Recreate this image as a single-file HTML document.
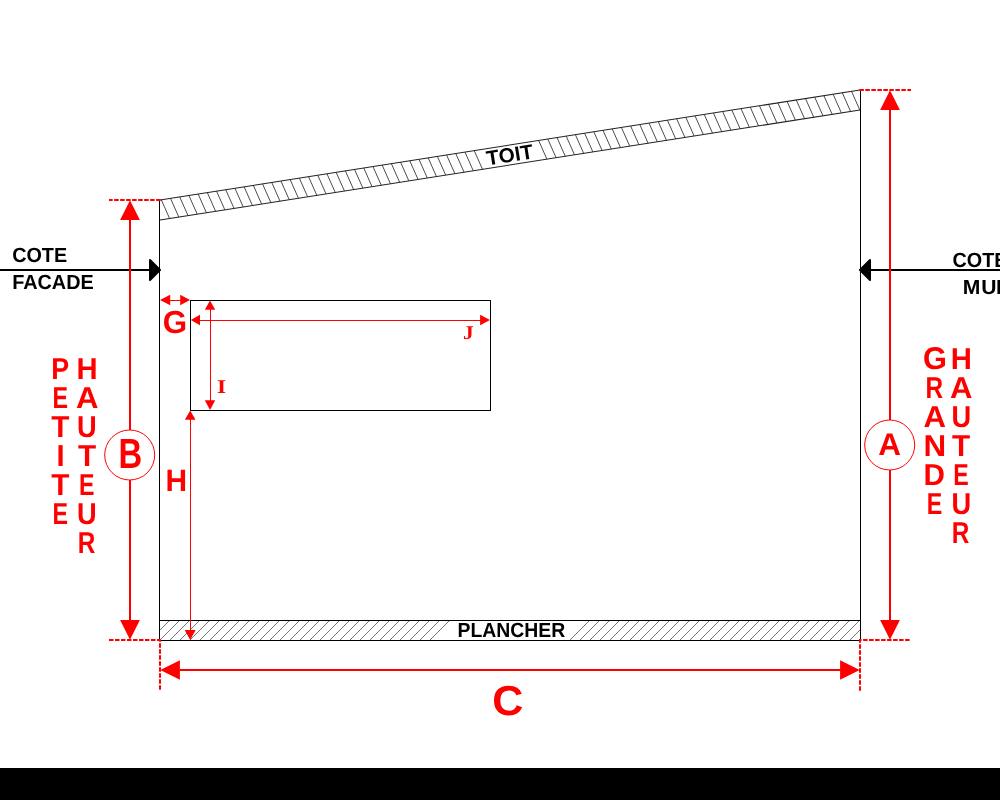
<!DOCTYPE html>
<html lang="fr">
<head>
<meta charset="utf-8">
<title>Schema</title>
<style>
html,body{margin:0;padding:0;background:#000;width:1000px;height:800px;overflow:hidden}
svg{display:block;position:absolute;left:0;top:0;will-change:transform}
text{font-family:"Liberation Sans",sans-serif;font-weight:bold;text-anchor:middle;text-rendering:geometricPrecision}
.r{fill:#f00}
.k{fill:#000}
.s{font-family:"Liberation Serif",serif;font-weight:bold;fill:#f00}
</style>
</head>
<body>
<svg width="1000" height="768" viewBox="0 0 1000 768">
<rect x="0" y="0" width="1000" height="768" fill="#fff"/>

<!-- roof -->
<path d="M161.3 199.8L169.6 218.49M170.5 198.35L178.8 217.05M179.71 196.9L188.01 215.6M188.91 195.46L197.21 214.15M198.11 194.01L206.41 212.71M207.31 192.57L215.61 211.26M216.52 191.12L224.82 209.81M225.72 189.67L234.02 208.37M234.92 188.23L243.22 206.92M244.12 186.78L252.42 205.48M253.33 185.33L261.63 204.03M262.53 183.89L270.83 202.58M271.73 182.44L280.03 201.14M280.93 181L289.23 199.69M290.14 179.55L298.44 198.25M299.34 178.1L307.64 196.8M308.54 176.66L316.84 195.35M317.75 175.21L326.05 193.91M326.95 173.77L335.25 192.46M336.15 172.32L344.45 191.01M345.35 170.87L353.65 189.57M354.56 169.43L362.86 188.12M363.76 167.98L372.06 186.68M372.96 166.53L381.26 185.23M382.16 165.09L390.46 183.78M391.37 163.64L399.67 182.34M400.57 162.2L408.87 180.89M409.77 160.75L418.07 179.45M418.97 159.3L427.27 178M428.18 157.86L436.48 176.55M437.38 156.41L445.68 175.11M446.58 154.97L454.88 173.66M455.79 153.52L464.09 172.22M464.99 152.07L473.29 170.77M474.19 150.63L482.49 169.32M538.61 140.5L546.91 159.2M547.81 139.06L556.11 157.75M557.01 137.61L565.31 156.31M566.22 136.17L574.52 154.86M575.42 134.72L583.72 153.42M584.62 133.27L592.92 151.97M593.83 131.83L602.13 150.52M603.03 130.38L611.33 149.08M612.23 128.94L620.53 147.63M621.43 127.49L629.73 146.18M630.64 126.04L638.94 144.74M639.84 124.6L648.14 143.29M649.04 123.15L657.34 141.85M658.24 121.7L666.54 140.4M667.45 120.26L675.75 138.95M676.65 118.81L684.95 137.51M685.85 117.37L694.15 136.06M695.05 115.92L703.35 134.62M704.26 114.47L712.56 133.17M713.46 113.03L721.76 131.72M722.66 111.58L730.96 130.28M731.87 110.14L740.17 128.83M741.07 108.69L749.37 127.39M750.27 107.24L758.57 125.94M759.47 105.8L767.77 124.49M768.68 104.35L776.98 123.05M777.88 102.9L786.18 121.6M787.08 101.46L795.38 120.15M796.28 100.01L804.58 118.71M805.49 98.57L813.79 117.26M814.69 97.12L822.99 115.82M823.89 95.67L832.19 114.37M833.09 94.23L841.39 112.92M842.3 92.78L850.6 111.48M851.5 91.34L859.8 110.03" stroke="#383838" stroke-width="0.9" fill="none"/>
<path d="M160 200L860 90M160 220L860 110" stroke="#222" stroke-width="1.05" fill="none"/>

<!-- floor -->
<path d="M160 630L170 620M160 640L180 620M170 640L190 620M180 640L200 620M190 640L210 620M200 640L220 620M210 640L230 620M220 640L240 620M230 640L250 620M240 640L260 620M250 640L270 620M260 640L280 620M270 640L290 620M280 640L300 620M290 640L310 620M300 640L320 620M310 640L330 620M320 640L340 620M330 640L350 620M340 640L360 620M350 640L370 620M360 640L380 620M370 640L390 620M380 640L400 620M390 640L410 620M400 640L420 620M410 640L430 620M420 640L440 620M430 640L450 620M570 640L590 620M580 640L600 620M590 640L610 620M600 640L620 620M610 640L630 620M620 640L640 620M630 640L650 620M640 640L660 620M650 640L670 620M660 640L680 620M670 640L690 620M680 640L700 620M690 640L710 620M700 640L720 620M710 640L730 620M720 640L740 620M730 640L750 620M740 640L760 620M750 640L770 620M760 640L780 620M770 640L790 620M780 640L800 620M790 640L810 620M800 640L820 620M810 640L830 620M820 640L840 620M830 640L850 620M840 640L860 620M850 640L860 630" stroke="#4a4a4a" stroke-width="0.75" fill="none"/>
<path d="M159.5 620.5H860.5M159.5 640.5H860.5" stroke="#000" stroke-width="1" fill="none"/>

<!-- walls -->
<path d="M159.5 200V641M860.5 90V641" stroke="#000" stroke-width="1" fill="none"/>

<!-- window -->
<rect x="190.5" y="300.5" width="300" height="110" fill="none" stroke="#000" stroke-width="1"/>

<!-- side black arrows -->
<path d="M0 270H152M1000 270H868" stroke="#000" stroke-width="2" fill="none"/>
<path d="M150 260L160 270L150 280Z M870 260L860 270L870 280Z" fill="#000" stroke="#000" stroke-width="2" stroke-linejoin="round"/>

<!-- red dashed -->
<path d="M160.65 200H109M109 640H161M859.35 90H911M909.6 640H859M160 689.75V639M860 690.75V639" stroke="#f00" stroke-width="2" stroke-dasharray="4.5 1.5" fill="none"/>

<!-- big red arrows -->
<path d="M130 215V625M890 105V625M175 670H845" stroke="#f00" stroke-width="2" fill="none"/>
<path d="M130 200.2L139.9 219.9H120.1Z M130 639.8L139.9 620.1H120.1Z M890 90.2L899.9 109.9H880.1Z M890 639.8L899.9 620.1H880.1Z M160.3 670L179.9 660.2V679.8Z M859.7 670L840.1 660.2V679.8Z" fill="#f00"/>

<!-- small red arrows -->
<path d="M165 300.5H185M195 320.5H485M210.5 305V405M190.5 415V635" stroke="#f00" stroke-width="1" fill="none"/>
<path d="M160 300L170.2 294.8V305.2Z M190 300L180.2 294.8V305.2Z M190.8 320L200 314.8V325.2Z M490 320L480.1 314.8V325.2Z M210 300.6L215.2 309.8H204.8Z M210 410L215.2 400.2H204.8Z M190.2 410.5L195.5 419.8H184.9Z M190.2 640L195.7 630.1H184.7Z" fill="#f00"/>

<!-- circles -->
<circle cx="129.7" cy="455" r="25" fill="#fff" stroke="#f00" stroke-width="1"/>
<circle cx="889.7" cy="445" r="25" fill="#fff" stroke="#f00" stroke-width="1"/>
<text class="r" font-size="42" transform="translate(130.3 467.9) scale(0.782 1)">B</text>
<text class="r" font-size="31.4" transform="translate(889.54 454.5) scale(1.003 1)">A</text>

<!-- labels -->
<text class="r" font-size="42" transform="translate(507.73 714.87) scale(1.025 1)">C</text>
<text class="r" font-size="30.9" transform="translate(174.97 332.92) scale(1.014 1.03)">G</text>
<text class="r" font-size="30.9" transform="translate(176.34 490.7) scale(0.968 1)">H</text>
<text class="s" font-size="19.6" transform="translate(221.61 392.9) scale(1.19 1)">I</text>
<text class="s" font-size="19.6" transform="translate(468.28 339.23) scale(1.084 1)">J</text>

<text class="k" font-size="20.5" transform="translate(39.64 261.69) scale(0.965 1)">COTE</text>
<text class="k" font-size="20.5" transform="translate(52.97 288.6) scale(0.969 1)">FACADE</text>
<text class="k" font-size="20.5" transform="translate(979.94 266.74) scale(0.965 1)">COTE</text>
<text class="k" style="text-anchor:start" font-size="20.5" x="934.65 952.7 966.98" transform="translate(0 294.04) scale(1.03 1)">MUR</text>

<text class="k" font-size="20.5" transform="translate(511.44 636.6) scale(0.946 1)">PLANCHER</text>
<text class="k" font-size="20.5" transform="translate(509.6 154.9) rotate(-8.93) translate(0 7.05) scale(1.017 1)">TOIT</text>

<g>
<text class="r" font-size="30.3"><tspan x="60.12" y="378.9" textLength="17.89" lengthAdjust="spacingAndGlyphs">P</tspan><tspan x="60.27" y="407.9" textLength="15.52" lengthAdjust="spacingAndGlyphs">E</tspan><tspan x="60.44" y="436.9" textLength="18.15" lengthAdjust="spacingAndGlyphs">T</tspan><tspan x="60.55" y="465.9" textLength="8.11" lengthAdjust="spacingAndGlyphs">I</tspan><tspan x="60.44" y="494.9" textLength="18.15" lengthAdjust="spacingAndGlyphs">T</tspan><tspan x="60.27" y="523.9" textLength="15.52" lengthAdjust="spacingAndGlyphs">E</tspan></text>
<text class="r" font-size="30.3"><tspan x="87.03" y="378.9" textLength="21.11" lengthAdjust="spacingAndGlyphs">H</tspan><tspan x="87.18" y="407.9" textLength="22.52" lengthAdjust="spacingAndGlyphs">A</tspan><tspan x="86.94" y="436.85" textLength="19.66" lengthAdjust="spacingAndGlyphs">U</tspan><tspan x="86.99" y="465.9" textLength="18.14" lengthAdjust="spacingAndGlyphs">T</tspan><tspan x="86.62" y="494.9" textLength="15.46" lengthAdjust="spacingAndGlyphs">E</tspan><tspan x="86.94" y="523.85" textLength="19.66" lengthAdjust="spacingAndGlyphs">U</tspan><tspan x="86.59" y="552.9" textLength="17.59" lengthAdjust="spacingAndGlyphs">R</tspan></text>
<text class="r" font-size="30.3"><tspan x="934.93" y="368.94" font-size="31.36" textLength="23.9" lengthAdjust="spacingAndGlyphs">G</tspan><tspan x="934.18" y="397.9" textLength="17.59" lengthAdjust="spacingAndGlyphs">R</tspan><tspan x="934.84" y="426.9" textLength="22.51" lengthAdjust="spacingAndGlyphs">A</tspan><tspan x="934.78" y="455.9" textLength="22.66" lengthAdjust="spacingAndGlyphs">N</tspan><tspan x="934.28" y="484.9" textLength="21.4" lengthAdjust="spacingAndGlyphs">D</tspan><tspan x="934.46" y="513.9" textLength="15.51" lengthAdjust="spacingAndGlyphs">E</tspan></text>
<text class="r" font-size="30.3"><tspan x="961.22" y="368.9" textLength="21.11" lengthAdjust="spacingAndGlyphs">H</tspan><tspan x="961.22" y="397.9" textLength="22.45" lengthAdjust="spacingAndGlyphs">A</tspan><tspan x="961.22" y="426.85" textLength="19.69" lengthAdjust="spacingAndGlyphs">U</tspan><tspan x="961.03" y="455.9" textLength="18.13" lengthAdjust="spacingAndGlyphs">T</tspan><tspan x="960.88" y="484.9" textLength="15.46" lengthAdjust="spacingAndGlyphs">E</tspan><tspan x="961.22" y="513.85" textLength="19.69" lengthAdjust="spacingAndGlyphs">U</tspan><tspan x="960.57" y="542.9" textLength="17.58" lengthAdjust="spacingAndGlyphs">R</tspan></text>
</g>
</svg>
</body>
</html>
